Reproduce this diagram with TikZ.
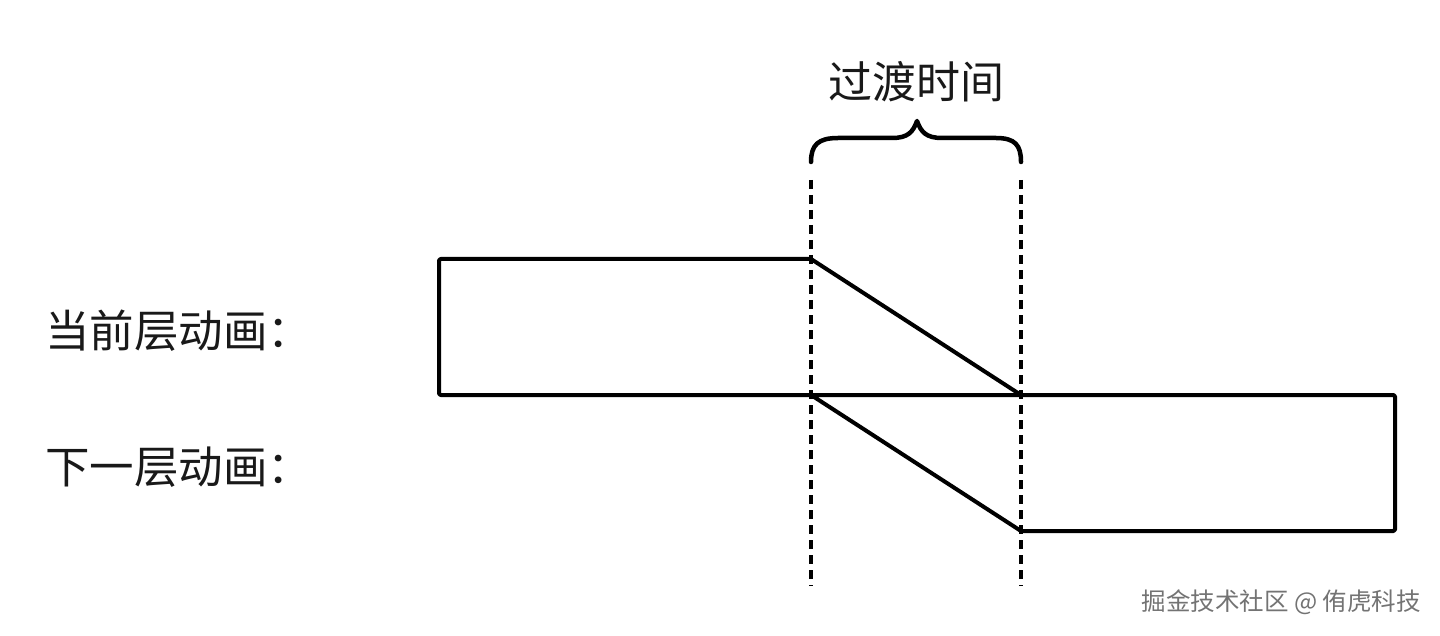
\documentclass[tikz,border=0pt]{standalone}
\usepackage{fontspec}
\newfontfamily\cjk{Noto Sans CJK SC}
\begin{document}
\begin{tikzpicture}[x=1pt,y=-1pt,
  solidline/.style={line width=4pt,line join=round,line cap=round,rounded corners=1.5pt},
  guide/.style={line width=3.6pt,dash pattern=on 9pt off 6pt},
  bracestyle/.style={line width=4.5pt,line cap=round,line join=round},
  lbl/.style={font=\cjk\fontsize{44.5}{50}\selectfont,inner sep=0pt,text=black!90},
  ttl/.style={font=\cjk\fontsize{44}{50}\selectfont,inner sep=0pt,text=black!90},
  wm/.style={font=\cjk\fontsize{24.5}{28}\selectfont,inner sep=0pt,text=black!55}]
\useasboundingbox (0,0) rectangle (1440,636);
% key coordinates
\coordinate (UL) at (439,259);
\coordinate (LL) at (439,395);
\coordinate (T1) at (811,259);
\coordinate (M1) at (811,395);
\coordinate (M2) at (1021,395);
\coordinate (B2) at (1021,531);
\coordinate (RT) at (1395,395);
\coordinate (RB) at (1395,531);
\coordinate (D1t) at (811,180);
\coordinate (D1b) at (811,586);
\coordinate (D2t) at (1021,180);
\coordinate (D2b) at (1021,586);
% guides
\draw[guide] (D1t) -- (D1b);
\draw[guide] (D2t) -- (D2b);
% current layer
\draw[solidline] (T1) -- (UL) -- (LL) -- (RT) -- (RB) -- (B2) -- (M1);
\draw[solidline] (T1) -- (M2);
% brace
\draw[bracestyle] (811,162) .. controls (811,145) and (818,138) .. (838,138)
  -- (892,138) .. controls (908,138) and (913,132) .. (917,121)
  .. controls (921,132) and (926,138) .. (942,138)
  -- (996,138) .. controls (1015,138) and (1021,145) .. (1021,162);
% labels
\node[ttl] (title) at (916,82) {过渡时间};
\node[lbl,anchor=west] (cur) at (45,331) {当前层动画：};
\node[lbl,anchor=west] (nxt) at (45,467) {下一层动画：};
\node[wm,anchor=east] (mark) at (1421,602) {掘金技术社区 @ 侑虎科技};
\end{tikzpicture}
\end{document}
